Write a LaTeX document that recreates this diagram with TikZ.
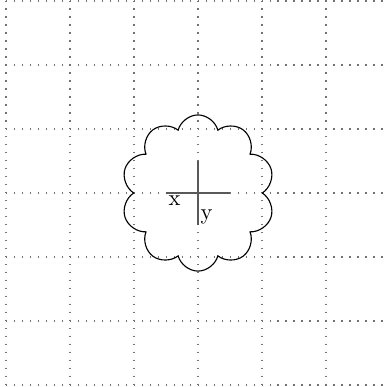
\documentclass[tikz,border=0pt]{standalone}
\usepackage{tikz}
\usetikzlibrary{positioning, shapes.symbols}

\begin{document}
\begin{tikzpicture}[x=1cm, y=1cm,
    gridline/.style={black!55, line width=0.5pt, dash pattern=on 0.6pt off 2.95pt},
    crossline/.style={black!65, line width=0.6pt},
    axislabel/.style={inner sep=1pt, font=\normalsize}]
  \useasboundingbox (-3.094,-3.031) rectangle (2.969,3.016);
  \foreach \t in {-3,...,3} {
    \draw[gridline] (\t,-3) -- (\t,3);
    \draw[gridline] (-3,\t) -- (3,\t);
  }
  \node[cloud, draw, cloud puffs=10, aspect=1, shape border rotate=18, minimum width=2.4cm, minimum height=2.44cm, line width=0.5pt] (puff) at (0,0) {};
  \coordinate (xl) at (-0.5,0);
  \coordinate (xr) at (0.5,0);
  \coordinate (yt) at (0,0.5);
  \coordinate (yb) at (0,-0.5);
  \draw[crossline] (xl) -- (xr);
  \draw[crossline] (yt) -- (yb);
  \node[axislabel, anchor=north west] (xlab) at (xl) {x};
  \node[axislabel, inner sep=0pt, anchor=south west, xshift=1pt] (ylab) at (yb) {y};
\end{tikzpicture}
\end{document}
